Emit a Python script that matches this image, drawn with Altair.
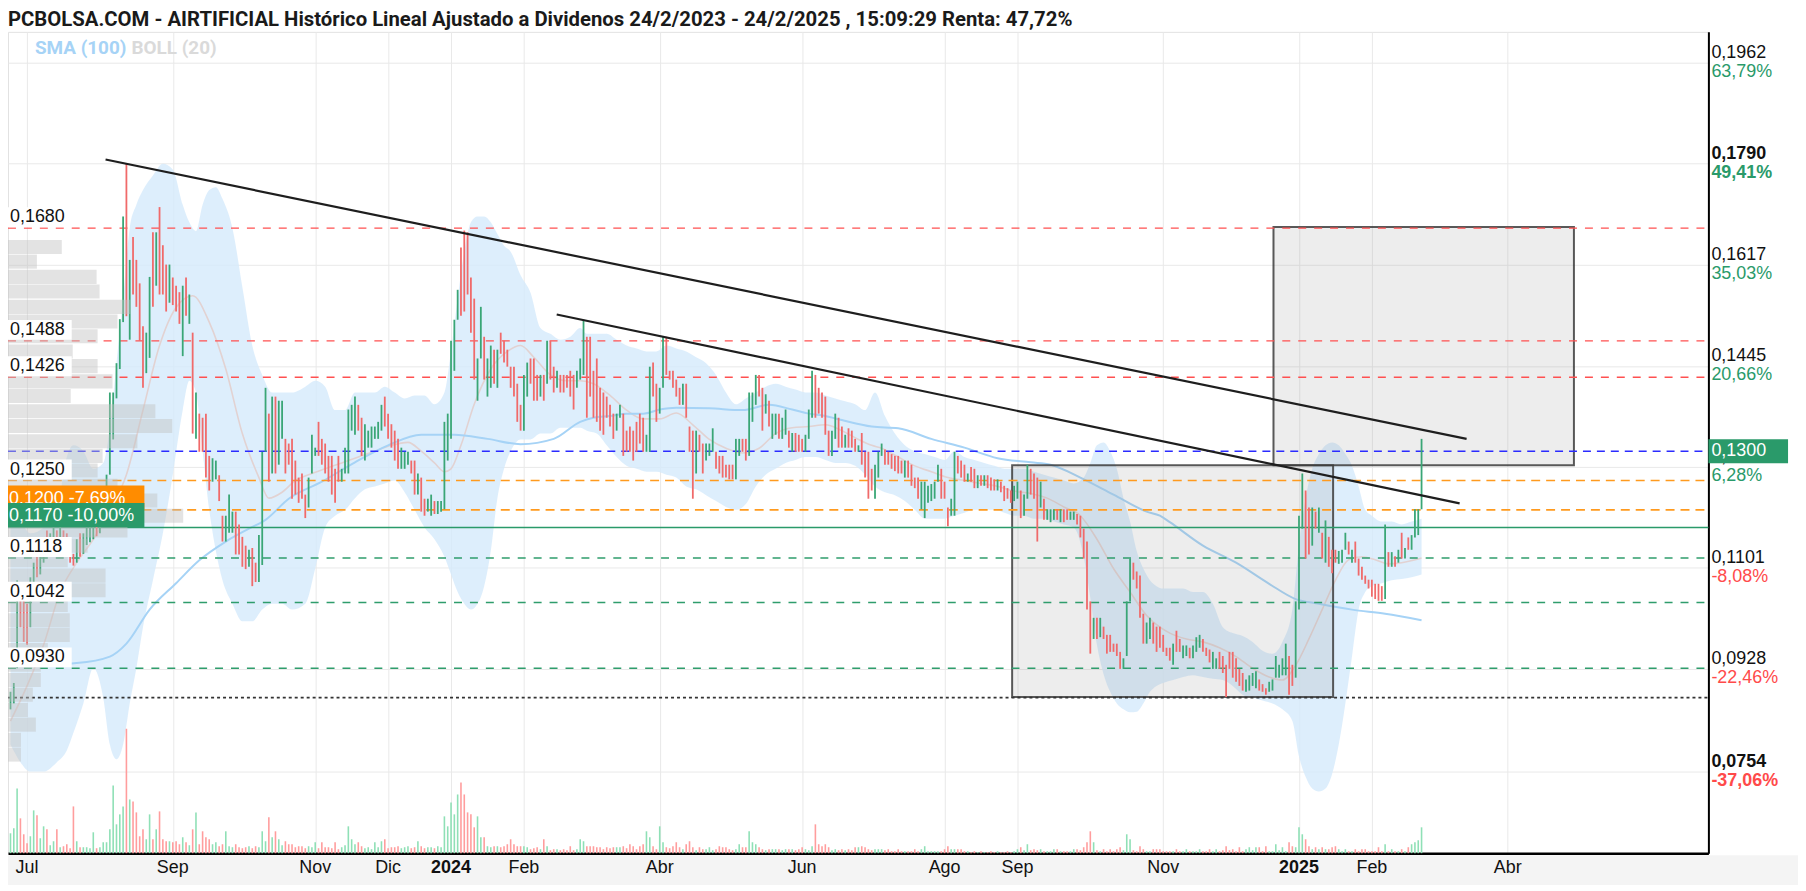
import altair as alt
import pandas as pd

# ---------------- candles (price x 10000), one per trading day from 26/6/2023 ----------------
LOW = [
860,870,930,1000,975,970,1000,1060,1085,1090,
1110,1130,1125,1140,1135,1140,1130,1120,1110,1105,
1110,1120,1125,1140,1145,1150,1155,1160,1175,1200,
1260,1320,1390,1440,1520,1530,1490,1567,1546,1488,
1408,1433,1459,1546,1582,1567,1567,1538,1553,1549,
1538,1517,1462,1531,1517,1330,1321,1299,1299,1255,
1233,1248,1252,1215,1146,1146,1161,1161,1124,1124,
1103,1099,1103,1070,1077,1077,1106,1299,1248,1262,
1262,1277,1321,1262,1277,1219,1226,1212,1219,1186,
1204,1262,1292,1292,1277,1262,1248,1226,1212,1248,
1248,1262,1262,1335,1328,1335,1292,1284,1306,1306,
1321,1321,1335,1342,1321,1306,1284,1270,1270,1270,
1277,1262,1226,1226,1197,1190,1197,1190,1193,1193,
1197,1201,1284,1321,1437,1524,1531,1538,1567,1502,
1422,1386,1458,1422,1393,1408,1415,1408,1466,1451,
1444,1408,1393,1350,1335,1335,1393,1415,1386,1386,
1393,1386,1415,1422,1400,1408,1400,1400,1408,1393,
1371,1408,1422,1430,1357,1393,1357,1350,1335,1328,
1357,1342,1321,1335,1357,1292,1299,1299,1284,1299,
1313,1299,1299,1299,1393,1350,1364,1408,1430,1422,
1408,1393,1379,1379,1357,1299,1219,1262,1299,1262,
1284,1292,1299,1270,1262,1255,1255,1252,1252,1252,
1292,1299,1284,1292,1350,1379,1393,1335,1364,1342,
1321,1328,1321,1321,1328,1306,1299,1299,1299,1299,
1299,1321,1357,1357,1364,1357,1328,1292,1292,1321,
1306,1306,1306,1306,1306,1299,1299,1277,1255,1219,
1233,1219,1255,1292,1277,1277,1270,1266,1262,1262,
1255,1255,1241,1237,1219,1201,1186,1212,1215,1219,
1248,1219,1219,1172,1190,1190,1262,1255,1248,1248,
1248,1237,1237,1241,1241,1237,1233,1233,1233,1230,
1215,1219,1212,1215,1219,1186,1190,1219,1226,1219,
1146,1204,1183,1183,1179,1183,1183,1179,1179,1183,
1183,1183,1175,1153,1117,1030,955,980,980,983,
980,955,958,958,951,929,929,951,1044,1081,
1066,1016,972,972,980,972,958,965,958,951,
943,936,958,958,947,951,947,947,958,965,
958,951,940,929,929,929,922,881,929,914,
907,900,892,890,892,900,896,892,890,885,
890,892,914,914,918,918,885,900,914,1030,
1168,1117,1124,1139,1168,1161,1117,1110,1103,1092,
1110,1108,1110,1132,1124,1110,1110,1088,1081,1074,
1066,1052,1048,1045,1045,1048,1103,1103,1103,1110,
1117,1117,1132,1132,1153,1157,1201]
HIGH = [
890,905,1080,1052,1045,1040,1085,1110,1120,1130,
1150,1165,1160,1170,1165,1172,1165,1160,1140,1125,
1150,1160,1160,1170,1175,1180,1175,1185,1210,1260,
1400,1400,1450,1525,1700,1790,1626,1665,1626,1586,
1513,1502,1597,1673,1673,1716,1651,1618,1618,1596,
1582,1571,1582,1596,1567,1502,1400,1364,1357,1364,
1292,1288,1284,1259,1190,1190,1226,1197,1197,1175,
1154,1139,1132,1135,1110,1157,1299,1408,1364,1393,
1393,1386,1386,1321,1313,1321,1284,1255,1262,1226,
1255,1328,1306,1350,1321,1313,1292,1292,1270,1292,
1270,1306,1371,1379,1393,1379,1357,1346,1335,1342,
1342,1350,1379,1393,1364,1346,1335,1321,1306,1299,
1299,1284,1284,1262,1255,1219,1219,1226,1215,1215,
1215,1350,1364,1488,1524,1575,1647,1676,1673,1596,
1560,1458,1546,1495,1458,1480,1473,1473,1502,1488,
1473,1444,1444,1415,1379,1430,1451,1458,1458,1430,
1430,1430,1488,1488,1444,1437,1430,1430,1430,1437,
1430,1437,1458,1524,1495,1495,1437,1458,1408,1400,
1393,1379,1364,1364,1379,1364,1335,1342,1335,1350,
1364,1357,1328,1444,1451,1415,1408,1495,1495,1437,
1437,1422,1408,1415,1415,1342,1335,1335,1328,1313,
1313,1313,1339,1299,1292,1292,1277,1277,1277,1321,
1321,1321,1321,1400,1400,1430,1430,1408,1397,1386,
1364,1364,1364,1357,1371,1335,1331,1331,1328,1321,
1328,1371,1437,1430,1408,1400,1393,1335,1335,1364,
1357,1342,1328,1339,1335,1321,1310,1331,1299,1299,
1270,1277,1299,1313,1303,1299,1295,1292,1292,1284,
1284,1284,1277,1255,1255,1248,1248,1241,1244,1248,
1277,1270,1248,1204,1219,1299,1292,1284,1277,1262,
1273,1270,1259,1259,1259,1259,1255,1252,1252,1248,
1241,1237,1233,1241,1248,1233,1226,1277,1270,1262,
1255,1248,1219,1201,1201,1201,1201,1201,1201,1201,
1197,1197,1193,1190,1168,1146,1044,1016,1016,1016,
1001,987,987,972,972,958,947,1044,1117,1110,
1095,1088,1023,1008,1016,1008,1001,1001,987,965,
965,972,994,980,969,969,965,969,983,987,
980,965,962,958,947,958,951,936,958,958,
947,929,922,911,918,922,925,911,903,896,
907,911,951,936,947,972,951,936,1044,1190,
1262,1233,1204,1204,1197,1204,1161,1182,1154,1132,
1132,1130,1132,1161,1146,1132,1146,1117,1103,1088,
1081,1081,1074,1074,1070,1175,1128,1128,1121,1132,
1161,1135,1153,1157,1201,1201,1321]
UP = [
1,1,1,0,0,0,1,1,0,1, 1,0,1,1,0,1,0,0,0,0, 1,0,1,1,1,1,0,1,1,1, 1,1,1,1,1,0,1,0,0,0,
0,1,1,0,1,0,0,0,1,0, 0,0,1,0,1,0,1,0,0,0, 0,1,1,0,0,1,1,1,0,0, 0,0,1,0,0,1,1,1,0,1,
0,1,1,0,0,0,0,0,0,0, 1,1,1,0,0,0,0,0,0,0, 1,1,1,1,1,0,0,1,1,1, 1,1,1,0,0,0,0,0,1,1,
1,0,0,1,0,0,1,1,0,1, 1,1,1,1,1,1,0,0,0,0, 0,1,1,0,1,1,0,1,0,0, 0,0,0,0,0,1,1,0,0,0,
1,0,1,0,0,1,0,0,0,0, 0,1,1,1,0,0,0,0,0,0, 0,0,0,1,1,0,0,0,0,0, 0,0,1,1,0,0,1,1,0,0,
0,0,0,1,0,0,0,1,0,0, 1,1,1,0,0,0,0,0,0,1, 1,0,0,1,1,1,0,0,1,0, 1,1,0,1,1,0,1,0,0,0,
1,1,1,0,0,0,0,0,1,1, 0,0,1,0,0,0,1,0,0,0, 0,1,1,1,0,0,0,0,0,0, 1,0,0,0,0,1,1,1,1,1,
1,0,0,0,1,1,0,0,0,1, 0,0,1,0,1,0,0,0,1,0, 0,0,0,1,1,0,1,1,0,0, 0,1,0,1,1,1,0,1,0,0,
1,1,0,0,0,0,0,1,0,1, 0,0,0,0,0,0,1,1,1,0, 0,0,0,1,1,0,0,0,0,0, 0,1,0,0,1,1,0,1,1,1,
0,0,0,1,1,0,0,0,0,0, 0,0,0,1,1,1,1,0,0,0, 1,1,1,1,1,1,0,0,1,1, 1,0,0,1,0,1,0,1,0,0,
0,1,1,1,0,1,0,0,0,0, 0,0,0,0,0,1,0,1,0,1, 0,1,0,1,1,1,1]
VOL = [
20,25,65,35,19,10,17,43,38,15, 27,24,8,12,24,6,7,9,5,47, 12,6,6,6,5,21,5,6,11,11,
24,68,29,39,47,125,54,52,41,17, 24,14,39,14,24,42,14,12,12,11, 12,9,16,11,8,24,41,9,22,16,
14,9,11,7,9,22,7,6,9,6, 5,6,7,5,7,6,22,12,36,16, 22,14,8,12,9,9,6,7,7,5,
7,6,11,5,11,6,6,5,11,4, 6,8,27,14,9,11,7,5,6,4, 11,6,12,14,5,6,6,7,5,6,
7,5,6,12,7,5,6,6,5,7, 6,37,27,51,39,59,71,59,41,39, 26,37,16,16,7,6,7,7,6,7,
9,14,9,7,7,7,6,4,5,6, 4,14,7,3,4,4,3,4,3,7, 3,4,14,12,7,7,7,6,6,4,
6,5,6,6,6,7,5,9,7,4, 7,9,22,16,7,4,27,11,6,5, 7,11,6,4,9,12,6,3,6,4,
4,6,3,4,7,6,6,4,3,4, 9,6,6,22,11,9,6,4,3,4, 4,4,4,3,4,4,4,3,4,6,
4,3,7,29,9,7,9,6,3,4, 3,4,3,4,3,6,6,7,6,4, 3,4,4,4,3,4,2,2,4,2,
2,2,2,4,2,4,7,2,2,2, 2,2,4,7,4,4,4,4,2,2, 1,2,1,2,1,1,2,1,2,1,
1,2,1,2,4,6,3,9,3,4, 3,4,2,2,2,4,4,2,2,2, 2,4,4,3,6,11,22,11,3,2,
4,2,4,2,4,6,3,19,14,3, 2,7,4,2,2,4,4,4,2,2, 2,2,4,2,2,4,2,2,2,4,
2,2,4,2,4,2,3,7,3,4, 2,6,2,4,6,3,6,6,2,7, 2,2,9,3,6,2,11,7,6,26,
19,14,7,4,6,4,6,4,4,6, 7,4,2,4,2,2,4,2,4,4, 2,2,2,6,2,9,2,4,2,2,
4,2,6,9,11,13,26]

# ---------------- Bollinger (20) and SMA (100) ----------------
BB_I = [0,3,6,10,14,17,19,22,25,28,30,32,34,36,38,40,43,46,49,52,54,56,58,60,62,64,67,70,73,76,79,82,85,
        89,92,95,98,101,104,107,110,113,116,119,122,125,128,131,133,135,137,139,141,143,145,147,149,151,154,
        157,160,163,166,169,172,174,177,180,183,186,189,192,195,198,201,204,207,210,213,216,219,222,225,228,
        231,234,237,240,243,246,249,252,255,258,261,264,267,270,273,276,279,282,285,288,291,294,297,300,303,
        306,309,312,315,318,321,324,326,328,330,332,334,336,338,340,342,344,346,348,351,354,357,360,363,366,
        369,372,375,378,381,384,387,389,391,393,395,397,399,401,403,405,407,409,411,414,417,420,423,426]
BB_UP = [1200,1180,1160,1170,1200,1290,1310,1300,1270,1280,1340,1450,1560,1680,1720,1745,1770,1790,1780,1720,
         1690,1675,1720,1745,1750,1730,1680,1580,1480,1430,1400,1400,1400,
         1410,1420,1410,1370,1370,1400,1400,1400,1410,1400,1390,1395,1395,1380,1400,1470,1560,1640,1690,1700,
         1700,1690,1670,1650,1640,1600,1570,1510,1500,1490,1495,1510,1500,1500,1500,1490,1480,1475,1470,1470,
         1480,1475,1470,1460,1450,1430,1400,1380,1390,1400,1410,1415,1410,1405,1400,1400,1395,1390,1385,1380,
         1370,1400,1360,1330,1310,1300,1295,1290,1285,1300,1290,1285,1280,1275,1270,1270,1270,1265,1260,1255,
         1250,1245,1255,1280,1310,1315,1300,1270,1220,1180,1130,1100,1080,1070,1066,1066,1066,1060,1060,1040,
         1000,990,985,975,960,955,975,1030,1140,1220,1270,1295,1310,1315,1310,1295,1275,1240,1200,1190,1180,
         1180,1175,1180,1185]
BB_LO = [800,770,754,754,770,790,820,870,930,880,800,775,800,870,930,1000,1080,1160,1260,1370,1420,1400,1300,
         1200,1130,1080,1040,1010,1010,1030,1040,1040,1030,
         1040,1100,1170,1190,1200,1220,1235,1240,1245,1250,1230,1200,1170,1150,1120,1090,1060,1040,1030,1040,
         1070,1130,1220,1270,1300,1320,1320,1330,1330,1340,1340,1340,1335,1330,1310,1290,1275,1270,1265,1265,
         1260,1255,1240,1235,1225,1215,1205,1200,1210,1240,1260,1270,1280,1285,1290,1290,1285,1280,1280,1275,
         1260,1240,1230,1225,1215,1200,1185,1185,1185,1190,1195,1200,1200,1200,1195,1190,1190,1185,1185,1180,
         1175,1170,1120,1050,970,920,890,870,860,855,856,870,890,900,905,910,915,918,915,912,
         910,900,885,880,875,870,860,840,780,745,725,720,725,750,800,870,950,1030,1060,1070,1075,
         1080,1082,1085,1090]
MID_I = [0,5,10,15,20,25,30,35,40,45,50,55,60,65,70,75,78,82,86,90,95,100,105,110,115,120,124,128,131,133,136,
         140,145,150,154,158,163,168,172,176,181,186,191,196,201,206,211,216,221,226,231,236,241,246,251,256,260,
         263,268,273,278,283,288,293,298,303,308,313,318,323,328,333,338,343,347,350,355,360,365,370,375,380,384,
         388,392,396,400,404,408,412,416,420,426]
MID_V = [840,900,970,1060,1110,1150,1200,1260,1370,1480,1545,1565,1520,1440,1330,1255,1220,1230,1250,1260,1270,
         1280,1290,1300,1310,1315,1300,1280,1265,1270,1310,1380,1440,1470,1480,1460,1430,1420,1420,1415,1395,1370,
         1355,1355,1365,1345,1320,1305,1297,1305,1330,1340,1342,1345,1335,1320,1310,1305,1290,1275,1265,1255,1250,
         1245,1240,1232,1228,1220,1205,1190,1150,1100,1060,1020,1000,990,980,975,965,950,930,915,910,935,980,1030,
         1080,1115,1120,1115,1108,1110,1118]
SMA_I = [3,20,30,35,42,50,57,65,72,77,84,94,104,114,124,134,144,154,164,172,176,181,186,191,196,201,211,221,229,
         236,241,246,251,260,268,278,288,298,308,314,323,333,343,347,350,360,370,380,388,395,405,415,426]
SMA_V = [935,939,950,972,1030,1075,1114,1146,1168,1183,1219,1248,1281,1310,1328,1328,1321,1312,1321,1350,1357,
         1360,1364,1364,1371,1374,1373,1370,1379,1371,1364,1360,1353,1342,1339,1321,1306,1288,1281,1277,1255,
         1226,1197,1190,1179,1139,1110,1074,1048,1040,1030,1023,1012]

# ---------------- volume at price (left profile): bin floor (x 10000) and bar length ----------------
PV_LO = [771,796,822,847,873,898,924,949,975,1000,1026,1051,1076,1102,1127,1153,1178,1204,1229,1255,
         1280,1305,1331,1356,1382,1407,1433,1458,1484,1509,1534,1560,1585,1611,1636]
PV_W = [13,13,28,20,25,33,33,40,62,62,60,98,98,60,80,120,176,150,110,90,
        95,130,165,148,63,105,90,65,90,110,123,92,89,29,54]

# ---------------- levels, annotations ----------------
RED_LEVELS = [0.1680, 0.1488, 0.1426]
BLUE_LEVELS = [0.1300]
ORANGE_LEVELS = [0.1250, 0.1200]
GREEN_SOLID = [0.1170]
GREEN_LEVELS = [0.1118, 0.1042, 0.0930]
MIN_LEVEL = [0.0880]
LEFT_VALUES = [0.1680, 0.1488, 0.1426, 0.1250, 0.1118, 0.1042, 0.0930]
LEFT_TEXT = ["0,1680", "0,1488", "0,1426", "0,1250", "0,1118", "0,1042", "0,0930"]
RIGHT_VALUES = [0.1962, 0.1790, 0.1617, 0.1445, 0.1273, 0.1101, 0.0928, 0.0754]
RIGHT_PCT = ["63,79%", "49,41%", "35,03%", "20,66%", "6,28%", "-8,08%", "-22,46%", "-37,06%"]
RIGHT_BOLD = [0, 1, 0, 0, 0, 0, 0, 1]
TREND_I = [[28.7, 439.6], [164.9, 437.5]]
TREND_P = [[0.1797, 0.1321], [0.1533, 0.1211]]
BOX_I = [[302.4, 399.3], [381.3, 472.0]]
BOX_P = [[0.0881, 0.1276], [0.1276, 0.1682]]
LAST_PRICE = 0.1300

TICK_YM = [(2023, 7), (2023, 9), (2023, 11), (2023, 12), (2024, 1), (2024, 2), (2024, 4), (2024, 6),
           (2024, 8), (2024, 9), (2024, 11), (2025, 1), (2025, 2), (2025, 4)]
TICK_TXT = ["Jul", "Sep", "Nov", "Dic", "2024", "Feb", "Abr", "Jun", "Ago", "Sep", "Nov", "2025", "Feb", "Abr"]
HOLIDAYS = ["2023-12-25", "2023-12-26", "2024-01-01", "2024-03-29", "2024-04-01", "2024-05-01",
            "2024-12-25", "2024-12-26", "2025-01-01", "2025-04-18", "2025-04-21"]

TITLE = ("PCBOLSA.COM - AIRTIFICIAL Histórico Lineal Ajustado a Dividenos 24/2/2023 - 24/2/2025 , "
         "15:09:29 Renta: 47,72%")

# ---------------- derived tables ----------------
dates = pd.bdate_range("2023-06-26", "2025-04-30", freq="C", holidays=HOLIDAYS)
tick_pos = []
for (yy, mm) in TICK_YM:
    idx = [k for k, d in enumerate(dates) if d.year == yy and d.month == mm][0]
    tick_pos.append(idx)
ticks = pd.DataFrame({"i": tick_pos, "t": TICK_TXT,
                      "b": [1 if t.isdigit() else 0 for t in TICK_TXT]})

n = len(LOW)
cdf = pd.DataFrame({"i": list(range(n)), "lo": [v / 1e4 for v in LOW], "hi": [v / 1e4 for v in HIGH],
                    "dir": ["up" if u else "down" for u in UP], "vol": VOL[:n]})
bb = pd.DataFrame({"i": BB_I, "up": [v / 1e4 for v in BB_UP], "lo": [v / 1e4 for v in BB_LO]})
mid = pd.DataFrame({"i": MID_I, "v": [v / 1e4 for v in MID_V]})
sma = pd.DataFrame({"i": SMA_I, "v": [v / 1e4 for v in SMA_V]})
pv = pd.DataFrame({"lo": [v / 1e4 for v in PV_LO], "hi": [(v + 24) / 1e4 for v in PV_LO], "w": PV_W})
trend = pd.DataFrame({"id": [0, 0, 1, 1], "i": TREND_I[0] + TREND_I[1], "p": TREND_P[0] + TREND_P[1]})
boxes = pd.DataFrame({"i1": [b[0] for b in BOX_I], "i2": [b[1] for b in BOX_I],
                      "p1": [b[0] for b in BOX_P], "p2": [b[1] for b in BOX_P]})
left = pd.DataFrame({"p": LEFT_VALUES, "t": LEFT_TEXT})
right = pd.DataFrame({"p": RIGHT_VALUES, "t": ["0," + ("%.4f" % v)[2:] for v in RIGHT_VALUES],
                      "pct": RIGHT_PCT, "b": RIGHT_BOLD,
                      "neg": [1 if s.startswith("-") else 0 for s in RIGHT_PCT]})
one = pd.DataFrame({"a": [0]})

W, H = 1708, 825
XS = alt.Scale(domain=[-0.75, 512.6], zero=False, nice=False)
YS = alt.Scale(domain=[0.06149, 0.20146], zero=False, nice=False)
VS = alt.Scale(domain=[0, H], zero=True, nice=False)
PS = alt.Scale(domain=[0, W], zero=True, nice=False)

GREEN = "#3aa676"
RED = "#f06a6a"
LBL_GREEN = "#2a9a6a"
LBL_RED = "#ff4a4a"
FONT = "Liberation Sans, Arial, sans-serif"
BOLDF = "Roboto, Liberation Sans, sans-serif"


def X(f="i"):
    return alt.X(f + ":Q", scale=XS, axis=None)


def Y(f):
    return alt.Y(f + ":Q", scale=YS, axis=None)


layers = []

# axes / grid carrier
layers.append(alt.Chart(pd.DataFrame({"i": [0], "p": [0.1]})).mark_point(opacity=0).encode(
    x=alt.X("i:Q", scale=XS, axis=alt.Axis(values=tick_pos, labels=False, ticks=False, grid=True,
                                           gridColor="#e9e9e9", domainColor="#000", domainWidth=2.5,
                                           title=None)),
    y=alt.Y("p:Q", scale=YS, axis=alt.Axis(orient="right", values=RIGHT_VALUES, labels=False, ticks=False,
                                           grid=True, gridColor="#e9e9e9", domainColor="#000",
                                           domainWidth=2, title=None))))

# bottom label band
layers.append(alt.Chart(one).mark_rect(color="#f4f4f4").encode(
    x=alt.value(0), x2=alt.value(1798), y=alt.value(827), y2=alt.value(857)))

# Bollinger band + middle + SMA100
layers.append(alt.Chart(bb).mark_area(color="#d4eafb", opacity=0.8, interpolate="monotone").encode(
    x=X(), y=Y("up"), y2="lo:Q"))
layers.append(alt.Chart(mid).mark_line(color="#e2d2d2", strokeWidth=1.6, interpolate="monotone").encode(
    x=X(), y=Y("v")))
layers.append(alt.Chart(sma).mark_line(color="#a6d3f6", strokeWidth=2, interpolate="monotone").encode(
    x=X(), y=Y("v")))

# rectangles
layers.append(alt.Chart(boxes).mark_rect(fill="#8c8c8c", fillOpacity=0.16, stroke="#3c3c3c",
                                         strokeWidth=2, strokeOpacity=0.85).encode(
    x=X("i1"), x2="i2:Q", y=Y("p1"), y2="p2:Q"))


def hl(values, color, dash=None, width=1.3):
    kw = dict(color=color, strokeWidth=width)
    if dash:
        kw["strokeDash"] = dash
    return alt.Chart(pd.DataFrame({"p": values})).mark_rule(**kw).encode(
        y=Y("p"), x=alt.value(0), x2=alt.value(W))


layers.append(hl(RED_LEVELS, "#ff5050", [8, 8]))
layers.append(hl(BLUE_LEVELS, "#2b2bff", [8, 6], 1.6))
layers.append(hl(ORANGE_LEVELS, "#ff9a1e", [9, 6], 1.6))
layers.append(hl(GREEN_SOLID, "#2a9a6a", None, 1.6))
layers.append(hl(GREEN_LEVELS, "#2f9d6c", [8, 8], 1.5))
layers.append(hl(MIN_LEVEL, "#333333", [3, 3], 1.6))

# candles
layers.append(alt.Chart(cdf).mark_rule(strokeWidth=1.8).encode(
    x=X(), y=Y("lo"), y2="hi:Q",
    color=alt.Color("dir:N", scale=alt.Scale(domain=["up", "down"], range=[GREEN, RED]), legend=None)))

# trend lines
layers.append(alt.Chart(trend).mark_line(color="#1e1e1e", strokeWidth=2.2).encode(
    x=X(), y=Y("p"), detail="id:N"))

# volume
layers.append(alt.Chart(cdf).mark_rule(strokeWidth=1.6).encode(
    x=X(), y=alt.Y("vol:Q", scale=VS, axis=None), y2=alt.value(H),
    color=alt.Color("dir:N", scale=alt.Scale(domain=["up", "down"], range=["#8fe0b6", "#ff9d9d"]),
                    legend=None)))

# volume-at-price profile
layers.append(alt.Chart(pv).mark_rect(color="#c2c2c2", opacity=0.45).encode(
    x=alt.X("w:Q", scale=PS, axis=None), x2=alt.value(0), y=Y("lo"), y2="hi:Q"))

# left level labels
layers.append(alt.Chart(left).mark_tick(color="white", orient="horizontal", thickness=20, size=66,
                                        yOffset=-11, opacity=1).encode(x=alt.value(31), y=Y("p")))
layers.append(alt.Chart(left).mark_text(align="left", baseline="middle", dy=-11, fontSize=18, font=FONT,
                                        color="#111").encode(x=alt.value(2), y=Y("p"), text="t:N"))

# stop-loss style boxes
tags = pd.DataFrame({"p": [0.1200, 0.1170], "t": ["0,1200  -7,69%", "0,1170  -10,00%"], "k": ["o", "g"]})
for k, col in (("o", "#ff8c00"), ("g", "#2a9a6a")):
    sub = tags[tags.k == k]
    layers.append(alt.Chart(sub).mark_tick(color=col, orient="horizontal", thickness=24, size=139,
                                           yOffset=-12.5, opacity=1).encode(x=alt.value(67.5), y=Y("p")))
    layers.append(alt.Chart(sub).mark_text(align="left", baseline="middle", dy=-11, fontSize=18, font=FONT,
                                           color="white").encode(x=alt.value(1), y=Y("p"), text="t:N"))

# right axis labels
for b in (0, 1):
    sub = right[right.b == b]
    layers.append(alt.Chart(sub).mark_text(align="left", baseline="middle", dy=-10, fontSize=18, font=FONT,
                                           fontWeight="bold" if b else "normal", color="#111").encode(
        x=alt.value(1711), y=Y("p"), text="t:N"))
    layers.append(alt.Chart(sub).mark_text(align="left", baseline="middle", dy=9, fontSize=18, font=FONT,
                                           fontWeight="bold" if b else "normal").encode(
        x=alt.value(1711), y=Y("p"), text="pct:N",
        color=alt.Color("neg:N", scale=alt.Scale(domain=[0, 1], range=[LBL_GREEN, LBL_RED]), legend=None)))

lastdf = pd.DataFrame({"p": [LAST_PRICE], "t": ["0," + ("%.4f" % LAST_PRICE)[2:]]})
layers.append(alt.Chart(lastdf).mark_tick(color="#2a9a6a", orient="horizontal", thickness=24, size=80,
                                          opacity=1).encode(x=alt.value(1748), y=Y("p")))
layers.append(alt.Chart(lastdf).mark_text(align="left", baseline="middle", fontSize=18, font=FONT,
                                          color="white").encode(x=alt.value(1711), y=Y("p"), text="t:N"))

# x labels
for b in (0, 1):
    layers.append(alt.Chart(ticks[ticks.b == b]).mark_text(
        baseline="middle", align="center", fontSize=18, font=FONT, color="#111",
        fontWeight="bold" if b else "normal").encode(x=X(), y=alt.value(840), text="t:N"))

# title and legend
layers.append(alt.Chart(one).mark_text(align="left", baseline="middle", fontSize=20.4, font=BOLDF,
                                       fontWeight="bold", color="#1a1a1a", text=TITLE).encode(
    x=alt.value(0), y=alt.value(-12)))
layers.append(alt.Chart(one).mark_text(align="left", baseline="middle", fontSize=19, font=BOLDF,
                                       fontWeight="bold", color="#a6d3f6", text="SMA (100)").encode(
    x=alt.value(27), y=alt.value(16)))
layers.append(alt.Chart(one).mark_text(align="left", baseline="middle", fontSize=19, font=BOLDF,
                                       fontWeight="bold", color="#dadada", text="BOLL (20)").encode(
    x=alt.value(124), y=alt.value(16)))

chart = alt.layer(*layers).resolve_scale(x="independent", y="independent", color="independent").properties(
    width=W, height=H, padding={"left": 0, "top": 22, "right": 90, "bottom": 36},
    autosize=alt.AutoSizeParams(type="none")
).configure_view(stroke="#e2e2e2")

chart.save("out.html", embed_options={"renderer": "svg", "actions": False})
